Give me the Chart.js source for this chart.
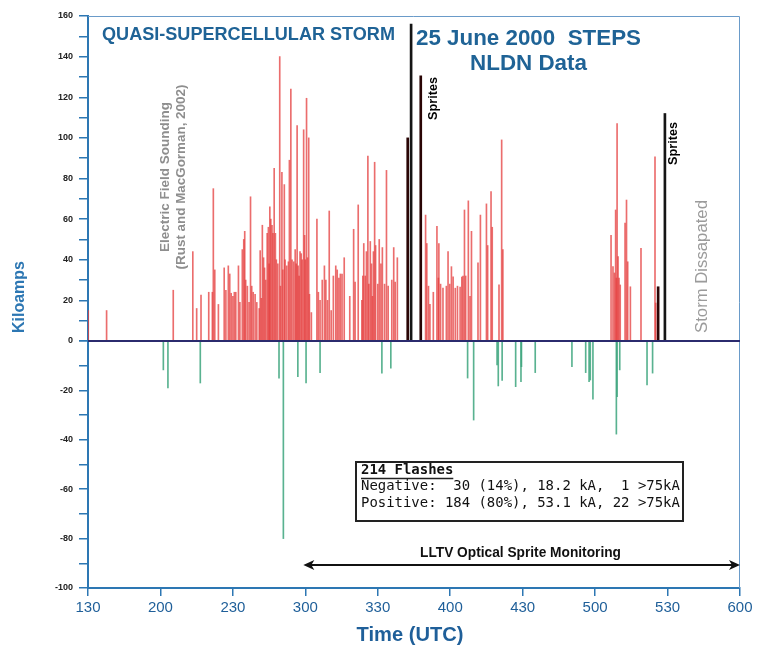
<!DOCTYPE html>
<html lang="en">
<head>
<meta charset="UTF-8">
<title>25 June 2000 STEPS - NLDN Data</title>
<style>
    body { margin: 0; background: #fff; }
    #wrap { width: 761px; height: 647px; position: relative; }
</style>
</head>
<body>
<div id="wrap"><canvas id="chart"></canvas></div>

<script src="https://cdn.jsdelivr.net/npm/chart.js"></script>
<script>
// flash times are minutes after 00:00 UTC, peak currents in kA
const posTimes = [
    90.1, 97.7, 125.3, 133.4, 135.0, 136.8, 140.0, 141.5, 141.9, 142.5,
    144.0, 146.4, 147.1, 148.1, 148.7, 149.3, 150.0, 150.6, 151.2, 152.3,
    152.9, 153.9, 154.5, 154.9, 155.3, 156.0, 156.7, 157.3, 157.8, 158.4,
    159.2, 159.9, 160.9, 161.3, 161.8, 162.2, 162.7, 163.1, 163.6, 164.2,
    164.7, 165.0, 165.3, 165.7, 166.2, 166.6, 167.1, 167.6, 168.0, 168.6,
    169.4, 169.7, 170.3, 170.7, 171.3, 171.6, 172.3, 173.0, 173.4, 174.0,
    174.5, 175.2, 175.8, 176.2, 176.6, 177.0, 177.4, 177.8, 178.3, 178.7,
    179.3, 179.7, 180.0, 180.5, 180.9, 181.4, 181.7, 182.5, 184.8, 185.4,
    186.1, 187.0, 187.9, 188.5, 189.2, 189.9, 190.7, 191.6, 192.6, 193.2,
    193.9, 194.5, 195.2, 196.1, 198.4, 200.0, 200.6, 201.9, 203.4, 203.8,
    204.2, 204.8, 205.3, 205.9, 206.3, 206.9, 207.4, 207.8, 208.2, 208.7,
    209.1, 210.0, 210.6, 211.3, 211.9, 212.8, 213.6, 214.3, 215.8, 216.6,
    217.2, 218.1,
    229.8, 230.3, 231.0, 231.6, 233.0, 234.5, 235.1, 235.3,
    236.0, 237.0, 238.4, 239.1, 239.8, 240.5, 241.2, 242.1, 243.0, 244.1,
    244.8, 245.3, 245.9, 246.4, 247.5, 248.2, 248.8, 251.5, 252.5, 255.0,
    255.5, 256.9, 257.4, 260.2, 261.3, 261.8,
    306.6, 307.4, 308.0, 308.5, 308.8, 309.1, 309.5, 309.9, 310.4, 312.4,
    313.0, 313.5, 314.6, 319.0, 324.8, 325.1
];
const posKA = [
    15, 15, 25, 44, 16, 22.6, 24, 24, 75, 35,
    18, 36, 25, 37, 33, 23.5, 22, 24, 24, 37,
    19, 45, 50, 54, 30, 27, 19, 71, 27, 24,
    23, 19, 16, 44.5, 21, 57, 41, 36, 30, 53,
    56, 38, 66, 60, 57, 53, 85, 53, 40, 38,
    140, 27, 83, 35, 77, 40, 37, 39, 89, 124,
    40, 39, 45, 38, 106, 37, 32, 44, 43, 40,
    104, 52, 40, 119.5, 41, 100, 23, 14, 60, 24,
    20, 30, 37, 30, 20, 64, 15, 32, 37, 35,
    31, 33, 33, 41, 22, 55, 29, 67, 20, 32,
    48, 32, 44, 91, 28, 49, 38, 22, 44, 88,
    47, 28, 50, 38, 46, 28, 84, 27, 30, 46,
    29, 41,
    62, 48, 27, 18, 24, 56.5, 31, 48,
    28, 26, 27, 44, 28, 36.6, 31.6, 26, 27, 26.5,
    31.5, 32, 64.5, 32, 69, 22, 54, 38.5, 62, 67.5,
    47, 73.5, 56, 27.6, 99, 45,
    52, 36.6, 33.5, 64.5, 31, 107, 41.5, 31, 27.6, 58,
    69.4, 39, 26.7, 45.6, 90.7, 18.7
];
const negTimes = [
    121.2, 123.1, 136.5, 169.1, 170.9, 176.9, 180.3, 186.1, 211.7, 215.4,
    247.2, 249.7, 259.4, 259.9, 261.5, 267.1, 269.3, 269.5, 275.2, 290.4,
    296.1, 297.5, 298.0, 299.1, 308.8, 309.1, 310.2, 321.5, 323.8
];
const negKA = [
    -11.7, -19, -17, -15, -80, -14.4, -17, -12.8, -13, -11,
    -15, -32, -9.7, -18.2, -16, -18.5, -16.5, -10.4, -12.8, -10.4,
    -12.8, -16.5, -15.8, -23.6, -37.7, -22.5, -11.7, -17.8, -13
];
// sprite-producing positive flashes (black)
const spriteTimes = [222.4, 227.8, 326.1];
const spriteKA = [100, 130.5, 26.7];
// "Sprites" marker lines
const markTimes = [223.8, 328.9];
const markKA = [156, 112];

const xTickValues = [90, 120, 150, 180, 210, 240, 270, 300, 330, 360];
const xTickLabels = ['130', '200', '230', '300', '330', '400', '430', '500', '530', '600'];
const yPosLabels = [0, 20, 40, 60, 80, 100, 120, 140, 160];
const yNegLabels = [-100, -80, -60, -40, -20];
const monitorRange = [180, 360];   // LLTV optical monitoring, 3:00 - 6:00

const FONT = '"Liberation Sans", Arial, sans-serif';
const BLUE = '#2d77b3';

function toPoints(xs, ys) {
    return xs.map((x, i) => ({ x: x, y: ys[i] }));
}

// major ticks plus one minor tick between each pair
function withMinor(majors) {
    const out = [];
    majors.forEach((v, i) => {
        out.push(v);
        if (i < majors.length - 1) out.push((v + majors[i + 1]) / 2);
    });
    return out.map(v => ({ value: v }));
}

// text scaled to a given length, centred at x,y
function fitText(ctx, text, o) {
    const w = o.weight || 'normal';
    const fam = o.family || FONT;
    ctx.save();
    ctx.font = w + ' 100px ' + fam;
    const size = 100 * o.len / ctx.measureText(text).width;
    ctx.font = w + ' ' + size + 'px ' + fam;
    ctx.fillStyle = o.color;
    ctx.textAlign = 'center';
    ctx.textBaseline = 'middle';
    ctx.translate(o.x, o.y);
    if (o.rot) ctx.rotate(-Math.PI / 2);
    ctx.fillText(text, 0, 0);
    ctx.restore();
}

const overlay = {
    id: 'overlay',
    afterDatasetsDraw(chart) {
        const { ctx, chartArea: a, scales } = chart;
        const y0 = scales.yPos.getPixelForValue(0);
        ctx.save();
        // thin frame top / right
        ctx.strokeStyle = '#6a9bc9';
        ctx.lineWidth = 1;
        ctx.beginPath();
        ctx.moveTo(a.left, a.top + 0.5);
        ctx.lineTo(a.right - 0.5, a.top + 0.5);
        ctx.lineTo(a.right - 0.5, a.bottom);
        ctx.stroke();
        // zero line
        ctx.strokeStyle = '#2b2b6e';
        ctx.lineWidth = 2;
        ctx.beginPath();
        ctx.moveTo(a.left, y0);
        ctx.lineTo(a.right, y0);
        ctx.stroke();
        ctx.restore();
    },
    afterDraw(chart) {
        const { ctx, scales } = chart;
        const title = '#1f6396';

        fitText(ctx, 'QUASI-SUPERCELLULAR STORM', { x: 248.5, y: 35.5, len: 293, weight: 'bold', color: title });
        fitText(ctx, '25 June 2000  STEPS', { x: 528.5, y: 38.5, len: 225, weight: 'bold', color: title });
        fitText(ctx, 'NLDN Data', { x: 528.5, y: 63.5, len: 117, weight: 'bold', color: title });

        fitText(ctx, 'Electric Field Sounding', { x: 165, y: 177, len: 150, weight: 'bold', color: '#8e8e8e', rot: true });
        fitText(ctx, '(Rust and MacGorman, 2002)', { x: 181, y: 177, len: 185, weight: 'bold', color: '#8e8e8e', rot: true });
        fitText(ctx, 'Sprites', { x: 433, y: 98.5, len: 43, weight: 'bold', color: '#000', rot: true });
        fitText(ctx, 'Sprites', { x: 673, y: 143.5, len: 43, weight: 'bold', color: '#000', rot: true });
        fitText(ctx, 'Storm Dissapated', { x: 702, y: 266.5, len: 133, color: '#9b9b9b', rot: true });

        fitText(ctx, 'Kiloamps', { x: 20, y: 297, len: 72, weight: 'bold', color: BLUE, rot: true });
        fitText(ctx, 'Time (UTC)', { x: 410, y: 635, len: 107, weight: 'bold', color: '#1f5f99' });

        // LLTV monitoring arrow
        const x1 = scales.x.getPixelForValue(monitorRange[0]) - 2;
        const x2 = scales.x.getPixelForValue(monitorRange[1]);
        const ya = 565;
        ctx.save();
        ctx.strokeStyle = '#111';
        ctx.fillStyle = '#111';
        ctx.lineWidth = 2;
        ctx.beginPath();
        ctx.moveTo(x1 + 6, ya);
        ctx.lineTo(x2 - 6, ya);
        ctx.stroke();
        ctx.beginPath();
        ctx.moveTo(x1, ya); ctx.lineTo(x1 + 11, ya - 5); ctx.lineTo(x1 + 8, ya); ctx.lineTo(x1 + 11, ya + 5);
        ctx.closePath(); ctx.fill();
        ctx.beginPath();
        ctx.moveTo(x2, ya); ctx.lineTo(x2 - 11, ya - 5); ctx.lineTo(x2 - 8, ya); ctx.lineTo(x2 - 11, ya + 5);
        ctx.closePath(); ctx.fill();
        ctx.restore();
        fitText(ctx, 'LLTV Optical Sprite Monitoring', { x: 520.5, y: 553, len: 201, weight: 'bold', color: '#111' });

        // summary box
        const lines = [
            'Negative:  30 (14%), 18.2 kA,  1 >75kA',
            'Positive: 184 (80%), 53.1 kA, 22 >75kA'
        ];
        const mono = '"DejaVu Sans Mono", monospace';
        ctx.save();
        ctx.fillStyle = '#fff';
        ctx.fillRect(356, 462, 327, 59);
        ctx.strokeStyle = '#222';
        ctx.lineWidth = 2;
        ctx.strokeRect(356, 462, 327, 59);
        ctx.font = '100px ' + mono;
        const size = 100 * 319 / ctx.measureText(lines[0]).width;
        ctx.fillStyle = '#111';
        ctx.textBaseline = 'middle';
        ctx.textAlign = 'left';
        ctx.font = 'bold ' + size + 'px ' + mono;
        ctx.fillText('214 Flashes', 361, 470);
        const uw = ctx.measureText('214 Flashes').width;
        ctx.lineWidth = 1.5;
        ctx.beginPath();
        ctx.moveTo(361, 478.5);
        ctx.lineTo(361 + uw, 478.5);
        ctx.stroke();
        ctx.font = size + 'px ' + mono;
        ctx.fillText(lines[0], 361, 486.5);
        ctx.fillText(lines[1], 361, 503);
        ctx.restore();
    }
};

function drawChart() {
    Chart.defaults.font.family = FONT;
    const barBase = { grouped: false, borderWidth: 0, xAxisID: 'x' };

    new Chart(document.getElementById('chart'), {
        type: 'bar',
        data: {
            datasets: [
                Object.assign({ label: 'Sprite markers', data: toPoints(markTimes, markKA),
                    backgroundColor: '#151515', barThickness: 2, yAxisID: 'yPos' }, barBase),
                Object.assign({ label: 'Sprite flashes', data: toPoints(spriteTimes, spriteKA),
                    backgroundColor: '#2a0505', barThickness: 2, yAxisID: 'yPos' }, barBase),
                Object.assign({ label: 'Negative', data: toPoints(negTimes, negKA),
                    backgroundColor: 'rgba(60, 165, 125, 0.85)', barThickness: 1, yAxisID: 'yNeg' }, barBase),
                Object.assign({ label: 'Positive', data: toPoints(posTimes, posKA),
                    backgroundColor: 'rgba(228, 60, 60, 0.75)', barThickness: 1, yAxisID: 'yPos' }, barBase)
            ]
        },
        options: {
            responsive: true,
            maintainAspectRatio: false,
            animation: false,
            layout: { padding: { top: 16, right: 21, left: 0, bottom: 0 } },
            plugins: { legend: { display: false }, tooltip: { enabled: false } },
            scales: {
                x: {
                    type: 'linear',
                    min: 90,
                    max: 360,
                    offset: false,
                    afterFit: s => { s.height = 59; },
                    afterBuildTicks: s => { s.ticks = xTickValues.map(v => ({ value: v })); },
                    grid: { drawOnChartArea: false, offset: false, tickLength: 8, color: BLUE, lineWidth: 1.5 },
                    border: { color: BLUE, width: 2 },
                    ticks: {
                        autoSkip: false,
                        maxRotation: 0,
                        padding: 3,
                        color: '#1f5f99',
                        font: { size: 15 },
                        callback: v => xTickLabels[xTickValues.indexOf(v)]
                    }
                },
                // the negative half is listed first so the layout stacks it underneath
                yNeg: {
                    type: 'linear',
                    position: 'left',
                    stack: 'kA',
                    stackWeight: 247,
                    min: -100,
                    max: 0,
                    afterFit: s => { s.width = 88; },
                    afterBuildTicks: s => { s.ticks = withMinor(yNegLabels.concat([0])); },
                    grid: { drawOnChartArea: false, tickLength: 9, color: BLUE, lineWidth: 1.5 },
                    border: { color: BLUE, width: 2 },
                    ticks: {
                        autoSkip: false,
                        padding: 6,
                        color: '#222',
                        font: { size: 9, weight: 'bold' },
                        callback: v => yNegLabels.includes(v) ? String(v) : ''
                    }
                },
                yPos: {
                    type: 'linear',
                    position: 'left',
                    stack: 'kA',
                    stackWeight: 325,
                    min: 0,
                    max: 160,
                    afterFit: s => { s.width = 88; },
                    afterBuildTicks: s => { s.ticks = withMinor(yPosLabels); },
                    grid: { drawOnChartArea: false, tickLength: 9, color: BLUE, lineWidth: 1.5 },
                    border: { color: BLUE, width: 2 },
                    ticks: {
                        autoSkip: false,
                        padding: 6,
                        color: '#222',
                        font: { size: 9, weight: 'bold' },
                        callback: v => yPosLabels.includes(v) ? String(v) : ''
                    }
                }
            }
        },
        plugins: [overlay]
    });
}

window.onload = drawChart;
</script>
</body>
</html>
